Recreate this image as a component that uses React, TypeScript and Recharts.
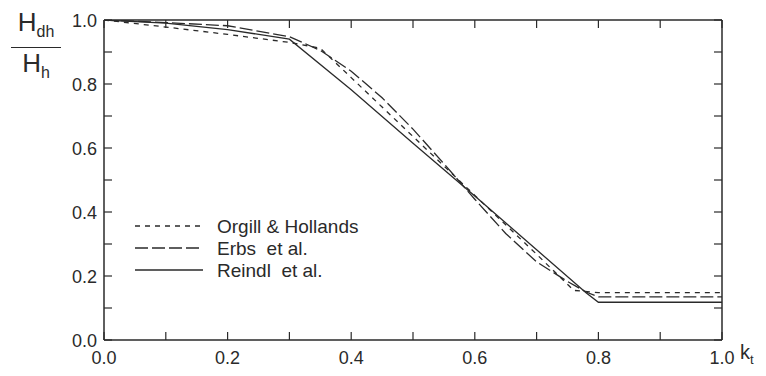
import { LineChart, Line, XAxis, YAxis } from "recharts"

const ktTicks = [0, 0.1, 0.2, 0.3, 0.4, 0.5, 0.6, 0.7, 0.8, 0.9, 1.0]
const ratioTicks = [0, 0.1, 0.2, 0.3, 0.4, 0.5, 0.6, 0.7, 0.8, 0.9, 1.0]

const orgillKt = [0, 0.1, 0.2, 0.3, 0.35, 0.4, 0.45, 0.5, 0.6, 0.7, 0.76, 0.8, 0.9, 1.0]
const orgillRatio = [1.0, 0.978, 0.955, 0.93, 0.912, 0.82, 0.728, 0.636, 0.452, 0.268, 0.155, 0.148, 0.148, 0.148]

const erbsKt = [0, 0.1, 0.2, 0.3, 0.35, 0.4, 0.45, 0.5, 0.55, 0.6, 0.65, 0.7, 0.75, 0.78, 0.8, 0.9, 1.0]
const erbsRatio = [1.0, 0.992, 0.982, 0.948, 0.905, 0.84, 0.757, 0.659, 0.551, 0.44, 0.333, 0.244, 0.183, 0.15, 0.135, 0.135, 0.135]

const reindlKt = [0, 0.1, 0.2, 0.3, 0.4, 0.5, 0.6, 0.7, 0.78, 0.8, 0.9, 1.0]
const reindlRatio = [1.0, 0.99, 0.97, 0.94, 0.782, 0.615, 0.45, 0.282, 0.148, 0.118, 0.118, 0.118]

const series = [
  { name: "Orgill & Hollands", kt: orgillKt, ratio: orgillRatio, dash: "5 5" },
  { name: "Erbs  et al.", kt: erbsKt, ratio: erbsRatio, dash: "13 4" },
  { name: "Reindl  et al.", kt: reindlKt, ratio: reindlRatio, dash: undefined },
]

const ink = "#2a2a2a"
const font = "Liberation Sans, Arial, sans-serif"

const isMajor = (v: number) => Math.round(v * 10) % 2 === 0

function BottomTick(props: any) {
  const { x, y, payload } = props
  return (
    <g>
      <line x1={x} y1={y} x2={x} y2={y - 8} stroke={ink} strokeWidth={1.2} />
      {isMajor(payload.value) && (
        <text x={x} y={y + 24} textAnchor="middle" fontSize={18} fill={ink} fontFamily={font}>
          {payload.value.toFixed(1)}
        </text>
      )}
    </g>
  )
}

function LeftTick(props: any) {
  const { x, y, payload } = props
  return (
    <g>
      <line x1={x} y1={y} x2={x + 8} y2={y} stroke={ink} strokeWidth={1.2} />
      {isMajor(payload.value) && (
        <text x={x - 7} y={y + 7} textAnchor="end" fontSize={18} fill={ink} fontFamily={font}>
          {payload.value.toFixed(1)}
        </text>
      )}
    </g>
  )
}

function TopTick(props: any) {
  const { x, y } = props
  return <line x1={x} y1={y} x2={x} y2={y + 8} stroke={ink} strokeWidth={1.2} />
}

function RightTick(props: any) {
  const { x, y } = props
  return <line x1={x} y1={y} x2={x - 8} y2={y} stroke={ink} strokeWidth={1.2} />
}

export default function App() {
  return (
    <div style={{ position: "fixed", left: 0, top: 0, width: 766, height: 376, background: "#fff" }}>
      <LineChart width={766} height={376} margin={{ top: 19, right: 43, bottom: 35, left: 103 }}>
        <XAxis
          dataKey="kt"
          type="number"
          domain={[0, 1]}
          ticks={ktTicks}
          tickSize={0}
          tickMargin={0}
          tickLine={false}
          tick={<BottomTick />}
          axisLine={{ stroke: ink, strokeWidth: 1.5 }}
          height={1}
          interval={0}
          allowDataOverflow
        />
        <XAxis
          xAxisId="top"
          orientation="top"
          dataKey="kt"
          type="number"
          domain={[0, 1]}
          ticks={ktTicks}
          tickSize={0}
          tickMargin={0}
          tickLine={false}
          tick={<TopTick />}
          axisLine={{ stroke: ink, strokeWidth: 1.5 }}
          height={1}
          interval={0}
          allowDataOverflow
        />
        <YAxis
          type="number"
          domain={[0, 1]}
          ticks={ratioTicks}
          tickSize={0}
          tickMargin={0}
          tickLine={false}
          tick={<LeftTick />}
          axisLine={{ stroke: ink, strokeWidth: 1.5 }}
          width={1}
          interval={0}
          allowDataOverflow
        />
        <YAxis
          yAxisId="right"
          orientation="right"
          type="number"
          domain={[0, 1]}
          ticks={ratioTicks}
          tickSize={0}
          tickMargin={0}
          tickLine={false}
          tick={<RightTick />}
          axisLine={{ stroke: ink, strokeWidth: 1.5 }}
          width={1}
          interval={0}
          allowDataOverflow
        />
        {series.map((s) => (
          <Line
            key={s.name}
            name={s.name}
            data={s.kt.map((k, i) => ({ kt: k, ratio: s.ratio[i] }))}
            dataKey="ratio"
            type="linear"
            stroke={ink}
            strokeWidth={1.3}
            strokeDasharray={s.dash}
            dot={false}
            isAnimationActive={false}
          />
        ))}
      </LineChart>
      <svg width={280} height={80} style={{ position: "absolute", left: 133, top: 214 }}>
        {series.map((s, i) => (
          <g key={s.name}>
            <line x1={2} y1={12 + i * 22} x2={70} y2={12 + i * 22} stroke={ink} strokeWidth={1.3} strokeDasharray={s.dash} />
            <text x={84} y={19 + i * 22} fontSize={19} fill={ink} fontFamily={font} style={{ whiteSpace: "pre" }}>
              {s.name}
            </text>
          </g>
        ))}
      </svg>
      <div style={{ position: "absolute", left: 11, top: 7, fontFamily: font, color: ink, textAlign: "center", width: 50 }}>
        <div style={{ fontSize: 26, lineHeight: "31px", borderBottom: `1.5px solid ${ink}` }}>
          H<sub style={{ fontSize: 16 }}>dh</sub>
        </div>
        <div style={{ fontSize: 26, lineHeight: "31px" }}>
          H<sub style={{ fontSize: 16 }}>h</sub>
        </div>
      </div>
      <div style={{ position: "absolute", left: 740, top: 341, fontFamily: font, color: ink, fontSize: 20 }}>
        k<sub style={{ fontSize: 13 }}>t</sub>
      </div>
    </div>
  )
}
